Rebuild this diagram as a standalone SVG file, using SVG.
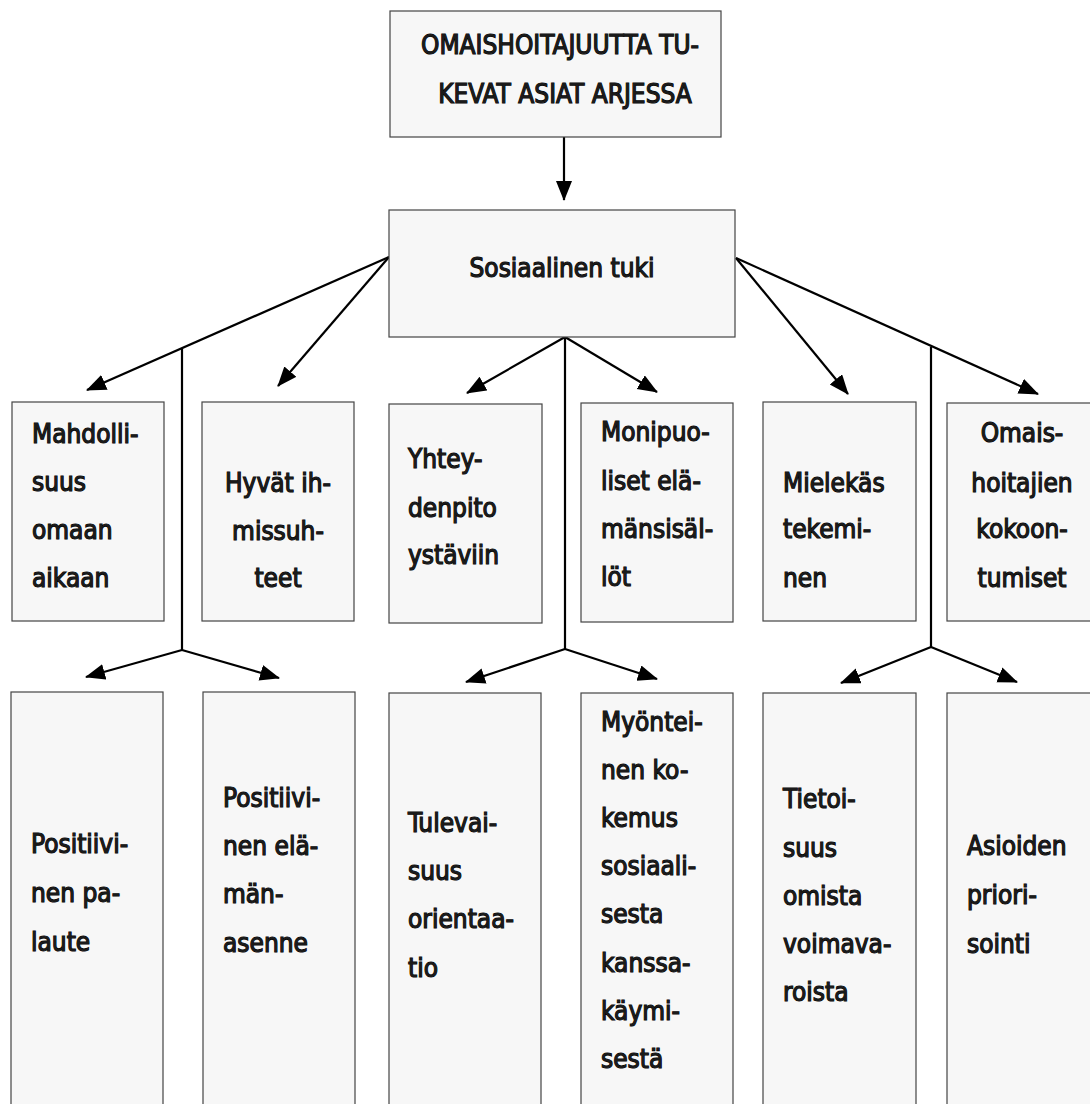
<svg xmlns="http://www.w3.org/2000/svg" width="1090" height="1104" viewBox="0 0 1090 1104">
<style>
.box{fill:#f7f7f7;stroke:#444;stroke-width:1.2}
.t{font-family:"DejaVu Sans Condensed","DejaVu Sans",sans-serif;font-size:26px;fill:#1a1a1a;stroke:#000;stroke-width:1.1;paint-order:stroke}
.c{text-anchor:middle}
.ln{stroke:#000;stroke-width:2.2;fill:none}
</style>
<defs>
<marker id="ah" markerUnits="userSpaceOnUse" markerWidth="22" markerHeight="18" refX="19" refY="8" orient="auto">
<path d="M0,0 L20,8 L0,16 z" fill="#000"/>
</marker>
</defs>
<rect width="1090" height="1104" fill="#fff"/>
<g id="connectors">
<line class="ln" x1="564" y1="137" x2="564" y2="200" marker-end="url(#ah)"/>
<line class="ln" x1="389" y1="257" x2="87" y2="390" marker-end="url(#ah)"/>
<line class="ln" x1="389" y1="257" x2="278" y2="386" marker-end="url(#ah)"/>
<line class="ln" x1="565" y1="337" x2="467" y2="393" marker-end="url(#ah)"/>
<line class="ln" x1="565" y1="337" x2="657" y2="392" marker-end="url(#ah)"/>
<line class="ln" x1="736" y1="258" x2="848" y2="394" marker-end="url(#ah)"/>
<line class="ln" x1="736" y1="258" x2="1038" y2="394" marker-end="url(#ah)"/>
<line class="ln" x1="182" y1="348" x2="182" y2="650"/>
<line class="ln" x1="182" y1="650" x2="86" y2="677" marker-end="url(#ah)"/>
<line class="ln" x1="182" y1="650" x2="279" y2="678" marker-end="url(#ah)"/>
<line class="ln" x1="565" y1="337" x2="565" y2="649"/>
<line class="ln" x1="565" y1="649" x2="466" y2="682" marker-end="url(#ah)"/>
<line class="ln" x1="565" y1="649" x2="657" y2="679" marker-end="url(#ah)"/>
<line class="ln" x1="931" y1="347" x2="931" y2="647"/>
<line class="ln" x1="931" y1="647" x2="841" y2="683" marker-end="url(#ah)"/>
<line class="ln" x1="931" y1="647" x2="1017" y2="682" marker-end="url(#ah)"/>
</g>
<g id="n-top">
<rect class="box" x="390" y="11" width="331" height="126"/>
<text class="t c" x="560" y="54">OMAISHOITAJUUTTA TU-</text>
<text class="t c" x="565" y="103">KEVAT ASIAT ARJESSA</text>
</g>
<g id="n-sosiaalinen">
<rect class="box" x="389" y="210" width="346" height="127"/>
<text class="t c" x="562" y="277">Sosiaalinen tuki</text>
</g>
<g id="n-mahdollisuus">
<rect class="box" x="12" y="402" width="152" height="219"/>
<text class="t" x="32" y="443">Mahdolli-</text>
<text class="t" x="32" y="491">suus</text>
<text class="t" x="32" y="539">omaan</text>
<text class="t" x="32" y="587">aikaan</text>
</g>
<g id="n-hyvat">
<rect class="box" x="202" y="402" width="152" height="219"/>
<text class="t c" x="278" y="492">Hyvät ih-</text>
<text class="t c" x="278" y="540">missuh-</text>
<text class="t c" x="278" y="587">teet</text>
</g>
<g id="n-yhteydenpito">
<rect class="box" x="389" y="404" width="153" height="219"/>
<text class="t" x="408" y="468">Yhtey-</text>
<text class="t" x="408" y="517">denpito</text>
<text class="t" x="408" y="564">ystäviin</text>
</g>
<g id="n-monipuoliset">
<rect class="box" x="581" y="403" width="152" height="219"/>
<text class="t" x="601" y="441">Monipuo-</text>
<text class="t" x="601" y="490">liset elä-</text>
<text class="t" x="601" y="538">mänsisäl-</text>
<text class="t" x="601" y="586">löt</text>
</g>
<g id="n-mielekas">
<rect class="box" x="763" y="402" width="153" height="219"/>
<text class="t" x="783" y="492">Mielekäs</text>
<text class="t" x="783" y="538">tekemi-</text>
<text class="t" x="783" y="587">nen</text>
</g>
<g id="n-omais">
<rect class="box" x="947" y="403" width="152" height="218"/>
<text class="t c" x="1022" y="442">Omais-</text>
<text class="t c" x="1022" y="492">hoitajien</text>
<text class="t c" x="1022" y="538">kokoon-</text>
<text class="t c" x="1022" y="587">tumiset</text>
</g>
<g id="n-palaute">
<rect class="box" x="11" y="692" width="152" height="430"/>
<text class="t" x="31" y="853">Positiivi-</text>
<text class="t" x="31" y="902">nen pa-</text>
<text class="t" x="31" y="951">laute</text>
</g>
<g id="n-elamanasenne">
<rect class="box" x="203" y="692" width="152" height="430"/>
<text class="t" x="223" y="807">Positiivi-</text>
<text class="t" x="223" y="855">nen elä-</text>
<text class="t" x="223" y="903">män-</text>
<text class="t" x="223" y="952">asenne</text>
</g>
<g id="n-tulevaisuus">
<rect class="box" x="389" y="693" width="152" height="430"/>
<text class="t" x="408" y="832">Tulevai-</text>
<text class="t" x="408" y="880">suus</text>
<text class="t" x="408" y="928">orientaa-</text>
<text class="t" x="408" y="977">tio</text>
</g>
<g id="n-myonteinen">
<rect class="box" x="581" y="693" width="152" height="430"/>
<text class="t" x="601" y="731">Myöntei-</text>
<text class="t" x="601" y="779">nen ko-</text>
<text class="t" x="601" y="827">kemus</text>
<text class="t" x="601" y="875">sosiaali-</text>
<text class="t" x="601" y="923">sesta</text>
<text class="t" x="601" y="972">kanssa-</text>
<text class="t" x="601" y="1020">käymi-</text>
<text class="t" x="601" y="1068">sestä</text>
</g>
<g id="n-tietoisuus">
<rect class="box" x="763" y="693" width="153" height="430"/>
<text class="t" x="783" y="808">Tietoi-</text>
<text class="t" x="783" y="857">suus</text>
<text class="t" x="783" y="905">omista</text>
<text class="t" x="783" y="953">voimava-</text>
<text class="t" x="783" y="1001">roista</text>
</g>
<g id="n-asioiden">
<rect class="box" x="947" y="693" width="152" height="430"/>
<text class="t" x="967" y="855">Asioiden</text>
<text class="t" x="967" y="904">priori-</text>
<text class="t" x="967" y="953">sointi</text>
</g>
</svg>
